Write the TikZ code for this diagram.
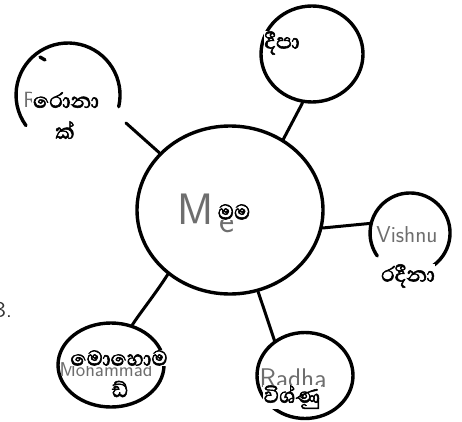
\documentclass[tikz,border=0pt]{standalone}
\usepackage{fontspec}
\usetikzlibrary{shapes.geometric}
\newfontfamily\sinhalafnt[Script=Sinhala, FakeBold=2]{Abhaya Libre}
\definecolor{handgrey}{HTML}{6E6E6E}
\tikzset{
  bubble/.style={draw=black, line width=3.4pt, ellipse, inner sep=0pt},
  stroke/.style={draw=black, line width=3.4pt, line cap=round},
  link/.style={draw=black, line width=3pt, line cap=round},
  sitext/.style={font=\sinhalafnt\fontsize{27}{30}\selectfont, fill=white, inner sep=0.5pt, text=black},
  hand/.style={font=\sffamily, text=handgrey, inner sep=0pt}
}
\begin{document}
\begin{tikzpicture}[x=1pt,y=1pt]
\useasboundingbox (0,0) rectangle (462,421);
% bubbles
\node[bubble, minimum width=186pt, minimum height=168pt] (me) at (230,211) {};
\node[bubble, minimum width=102pt, minimum height=96pt] (deepa) at (312,367) {};
\node[bubble, minimum width=106pt, minimum height=84pt] (moh) at (111,56) {};
\node[bubble, minimum width=96pt, minimum height=86pt] (radha) at (305,45.5) {};
% open bubbles
\draw[stroke] (118.7,314.3) arc[start angle=-13, end angle=216, radius=52];
\draw[stroke] (40,364) -- (45,361);
\draw[stroke] (428.8,152.7) arc[start angle=-62, end angle=215, radius=40];
\coordinate (ronakend) at (126,298);
\coordinate (vishnuend) at (371.2,197.7);
% connectors
\draw[link] (ronakend) -- (me.141);
\draw[link] (deepa.-101) -- (me.53);
\draw[link] (me.-11) -- (vishnuend);
\draw[link] (me.-134) .. controls (156,128) and (140,108) .. (moh.62);
\draw[link] (me.-71) -- (radha.131);
% handwritten grey texts
\node[hand, font=\sffamily\fontsize{22}{24}\selectfont] (hr) at (30,321) {R};
\node[hand, font=\sffamily\fontsize{44}{50}\selectfont] (hm) at (196,212) {M};
\node[hand, font=\sffamily\fontsize{36}{40}\selectfont] (he) at (227,196) {e};
\node[hand, font=\sffamily\fontsize{23}{26}\selectfont] (hv) at (407,186) {Vishnu};
\node[hand, font=\sffamily\fontsize{27}{30}\selectfont] (hra) at (293,43) {Radha};
\node[hand, font=\sffamily\fontsize{20}{22}\selectfont] (hmo) at (106,51) {Mohammad};
\node[font=\sffamily\fontsize{22}{24}\selectfont, text=black!80, anchor=east, inner sep=0pt] (hb) at (12,111) {B.};
% sinhala labels
\node[sitext] (t1) at (66,321) {රොනා};
\node[sitext] (t2) at (65,291) {ක්};
\node[sitext] (t3) at (282,378) {දීපා};
\node[sitext] (t4) at (234,209) {මම};
\node[sitext] (t5) at (408,145) {රදීනා};
\node[sitext] (t6) at (292,24) {විශ්ණු};
\node[sitext] (t7) at (119,63) {මොහොම};
\node[sitext] (t8) at (120,32) {ඩ්};
\end{tikzpicture}
\end{document}
